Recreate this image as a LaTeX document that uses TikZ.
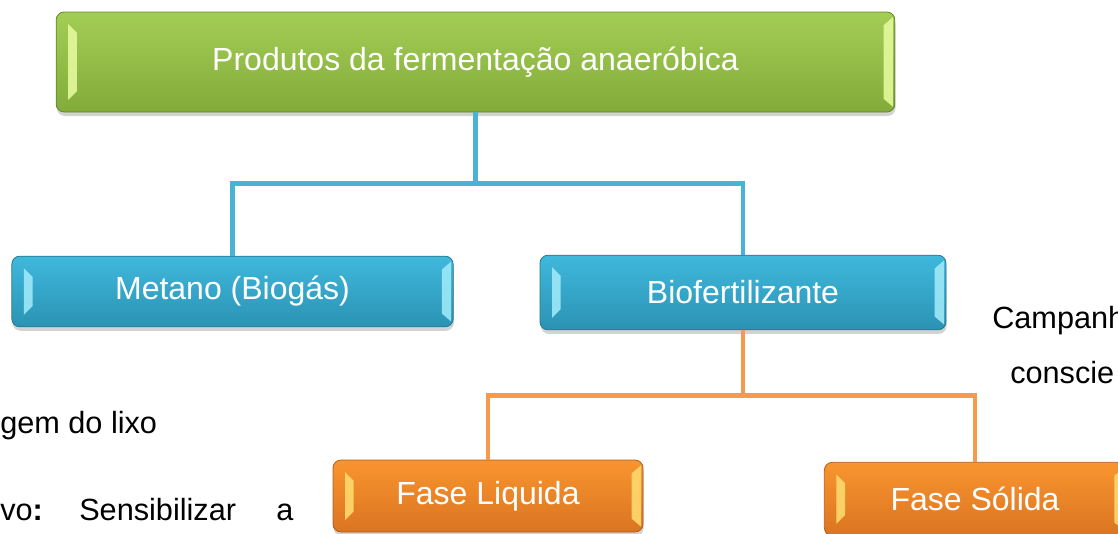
\documentclass[tikz,border=0pt]{standalone}
\usepackage{fontspec}
\setmainfont{Liberation Sans}
\usetikzlibrary{calc,positioning,shadows}

\definecolor{grtop}{HTML}{A3CE55}
\definecolor{grbot}{HTML}{82AB3A}
\definecolor{grline}{HTML}{62852A}
\definecolor{grbevel}{HTML}{E4F89C}
\definecolor{bltop}{HTML}{3FB8DC}
\definecolor{blbot}{HTML}{2B93B4}
\definecolor{blline}{HTML}{24788F}
\definecolor{blbevel}{HTML}{9DE9F8}
\definecolor{ortop}{HTML}{F9952F}
\definecolor{orbot}{HTML}{DA7421}
\definecolor{orline}{HTML}{B45C16}
\definecolor{orbevel}{HTML}{FFD96D}
\definecolor{bluewire}{HTML}{4AB3D3}
\definecolor{orangewire}{HTML}{F89A4B}

\tikzset{
  box/.style={rounded corners=6pt, inner sep=0pt, text=white,
    font=\fontsize{24}{28}\selectfont, line width=0.6pt,
    drop shadow={shadow xshift=0.5pt, shadow yshift=-3pt, opacity=0.35},
    path picture={
      % light side faces
      \fill[#1, opacity=0.9, sharp corners] ($(path picture bounding box.north west)+(9pt,-9pt)$) -- ++(6.5pt,-6.5pt)
        -- ($(path picture bounding box.south west)+(15.5pt,15.5pt)$) -- ++(-6.5pt,-6.5pt) -- cycle;
      \fill[#1, opacity=0.9, sharp corners] ($(path picture bounding box.north east)+(-1.5pt,-4pt)$) -- ++(-7pt,-6pt)
        -- ($(path picture bounding box.south east)+(-8.5pt,10pt)$) -- ++(7pt,-6pt) -- cycle;
    }},
  greenbox/.style={box=grbevel, top color=grtop, bottom color=grbot, draw=grline},
  bluebox/.style={box=blbevel, top color=bltop, bottom color=blbot, draw=blline},
  orangebox/.style={box=orbevel, top color=ortop, bottom color=orbot, draw=orline},
  blueline/.style={draw=bluewire, line width=3.5pt},
  orangeline/.style={draw=orangewire, line width=3.5pt},
  txt/.style={inner sep=0pt, anchor=base west, font=\fontsize{23}{27}\selectfont}
}

\begin{document}
\begin{tikzpicture}[x=0.75pt, y=-0.75pt]
    \useasboundingbox (0,0) rectangle (1118,533);

    \node[greenbox, minimum width=629pt, minimum height=75pt] (produtos) at (475.5,62) {Produtos da fermentação anaeróbica};
    \node[bluebox, minimum width=331pt, minimum height=53pt] (metano) at (232.5,291.5) {Metano (Biogás)};
    \node[bluebox, minimum width=304.5pt, minimum height=56pt] (biofert) at (743,292.5) {Biofertilizante};
    \node[orangebox, minimum width=232.5pt, minimum height=54pt] (liquida) at (488,496) {Fase Liquida};
    \node[orangebox, minimum width=226pt, minimum height=55pt] (solida) at (975,499) {Fase Sólida};

    \draw[blueline] (produtos.south) -- ++(0,71) coordinate (bsplit) -| (metano.north);
    \draw[blueline] (bsplit) -| (biofert.north);
    \draw[orangeline] (biofert.south) -- ++(0,65) coordinate (osplit) -| (liquida.north);
    \draw[orangeline] (osplit) -| (solida.north);

    % text of the page behind the chart
    \node[txt] (campanha) at (992,328) {Campanh};
    \node[txt] (conscie) at (1010,383) {conscie};
    \node[txt] (lixo) at (0,433) {gem do lixo};
    \node[txt] (objetivo) at (0,520) {vo\textbf{:}};
    \node[txt] (sensib) at (79,520) {Sensibilizar};
    \node[txt] (artigo) at (276,520) {a};
\end{tikzpicture}
\end{document}
